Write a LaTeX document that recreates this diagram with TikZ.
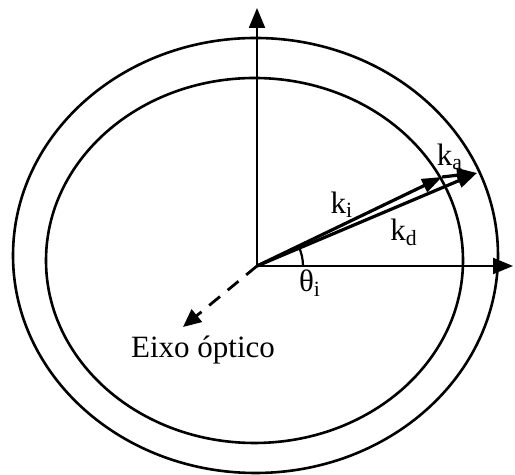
\documentclass[tikz,border=0pt]{standalone}
\usepackage{fontspec}
\setmainfont{Liberation Serif}
\usetikzlibrary{arrows.meta,calc}
\definecolor{opink}{HTML}{000000}
\tikzset{
  op text/.style={font=\fontsize{15.5}{18}\selectfont, text=opink, inner sep=0pt},
  op ring/.style={draw=opink, line width=1.3pt},
  op axis/.style={draw=opink, line width=1.1pt, -{Triangle[length=10pt,width=8pt]}},
  op wave/.style={draw=opink, line width=1.6pt, -{Triangle[length=10pt,width=7pt]}},
  op optic/.style={draw=opink, line width=1.4pt, dash pattern=on 7pt off 5pt,
    -{Triangle[length=9pt,width=8pt]}},
  op angle/.style={draw=opink, line width=1.1pt}
}
\begin{document}
\begin{tikzpicture}[op text, x=0.5pt, y=0.5pt]
  \useasboundingbox (0,0) rectangle (515,475);
  % cristal
  \draw[op ring] (255.5,219.5) ellipse [x radius=242.5, y radius=217.5];
  \draw[op ring] (254.5,214.5) ellipse [x radius=208.5, y radius=182.5];
  % eixos
  \coordinate (O) at (257,209);
  \coordinate (ytip) at (257,467);
  \coordinate (xtip) at (513,209);
  \coordinate (eixo) at (183,148);
  \coordinate (ki) at (442,298);
  \coordinate (kd) at (477,302);
  \draw[op axis] (O) -- (ytip);
  \draw[op axis] (O) -- (xtip);
  \draw[op optic] (O) -- (eixo);
  % vetores de onda
  \draw[op wave] (O) -- (ki);
  \draw[op wave] (O) -- (kd);
  \draw[op wave] (ki) -- (kd);
  \draw[op angle] ($(O)+(46,0)$) arc [start angle=0, end angle=25, radius=46];
  % rotulos
  \node (lki) at (342,270) {k\textsubscript{i}};
  \node (lkd) at (404,243) {k\textsubscript{d}};
  \node (lka) at (450,318) {k\textsubscript{a}};
  \node (lth) at (310,192) {θ\textsubscript{i}};
  \node (leixo) at (203,125) {Eixo óptico};
\end{tikzpicture}
\end{document}
